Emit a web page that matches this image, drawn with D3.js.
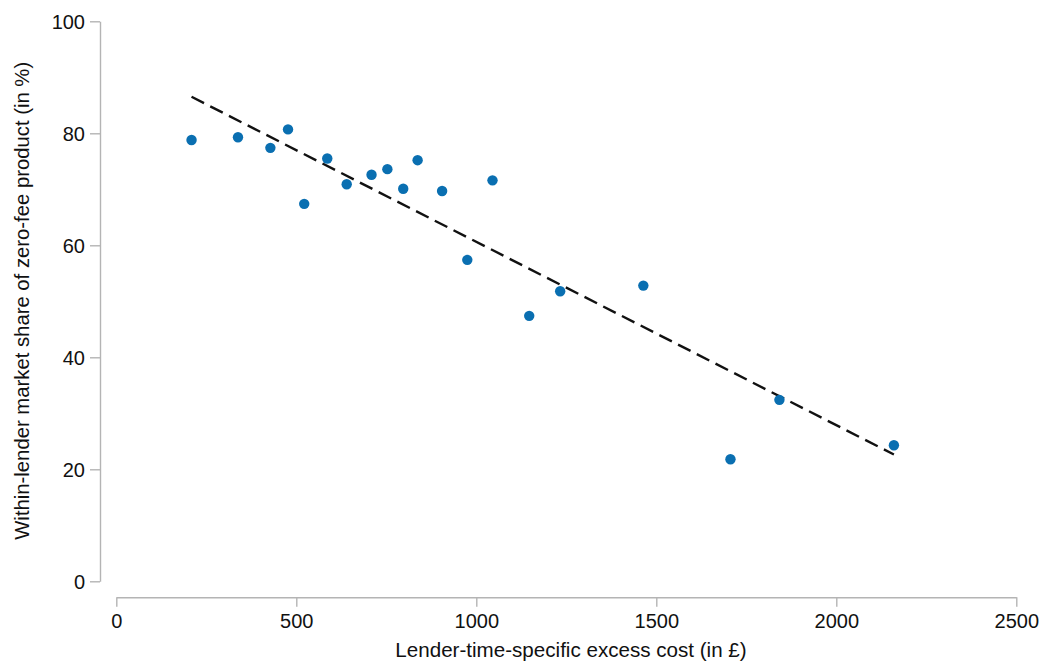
<!DOCTYPE html>
<html>
<head>
<meta charset="utf-8">
<script src="https://cdn.jsdelivr.net/npm/d3@7"></script>
<style>
  html, body { margin: 0; padding: 0; background: #fff; }
  svg { display: block; }
  text { font-family: "Liberation Sans", Arial, Helvetica, sans-serif; fill: #111; }
</style>
</head>
<body>
<svg id="chart" width="1040" height="661"></svg>
<script>
// Lender-time-specific excess cost (£) for each lender-period
const excessCost = [209, 338, 428, 477, 522, 586, 640, 709, 753, 797,
                    837, 905, 975, 1045, 1147, 1233, 1464, 1706, 1842, 2160];
// Within-lender market share of the zero-fee product (%)
const zeroFeeShare = [78.8, 79.3, 77.4, 80.7, 67.4, 75.5, 70.9, 72.6, 73.6, 70.1,
                      75.2, 69.7, 57.4, 71.6, 47.4, 51.8, 52.8, 21.8, 32.4, 24.3];
// Linear fit: intercept and slope
const fitIntercept = 93.36;
const fitSlope = -0.03274;

const xTicks = [0, 500, 1000, 1500, 2000, 2500];
const yTicks = [0, 20, 40, 60, 80, 100];

const xTitle = "Lender-time-specific excess cost (in £)";
const yTitle = "Within-lender market share of zero-fee product (in %)";

const svg = d3.select("#chart");
const axisColor = "#b4b4b4";

const x = d3.scaleLinear().domain([0, 2500]).range([116.3, 1016.3]);
const y = d3.scaleLinear().domain([0, 100]).range([581.3, 21.3]);

// y axis, offset to the left of the plot region
const yAxis = svg.append("g")
  .attr("transform", "translate(100,0)")
  .call(d3.axisLeft(y).tickValues(yTicks).tickFormat(d3.format("d"))
    .tickSize(10).tickSizeOuter(0).tickPadding(5));

// x axis, offset below the plot region
const xAxis = svg.append("g")
  .attr("transform", "translate(0,597.3)")
  .call(d3.axisBottom(x).tickValues(xTicks).tickFormat(d3.format("d"))
    .tickSize(9.5).tickSizeOuter(0).tickPadding(6));

[yAxis, xAxis].forEach(g => {
  g.attr("font-family", null).attr("font-size", null);
  g.select(".domain").attr("stroke", axisColor).attr("stroke-width", 1.4);
  g.selectAll(".tick line").attr("stroke", axisColor).attr("stroke-width", 1.4);
  g.selectAll(".tick text").attr("fill", "#111").style("font-size", "20px");
});
yAxis.selectAll(".tick text").attr("dy", "0.36em");
xAxis.selectAll(".tick text").attr("dy", "0.76em");

// fitted line across the observed range
const xMin = d3.min(excessCost), xMax = d3.max(excessCost);
const fitPts = [xMin, xMax].map(v => [v, fitIntercept + fitSlope * v]);
svg.append("path")
  .datum(fitPts)
  .attr("fill", "none")
  .attr("stroke", "#111")
  .attr("stroke-width", 2.4)
  .attr("stroke-dasharray", "14,7")
  .attr("d", d3.line().x(d => x(d[0])).y(d => y(d[1])));

// scatter points
svg.append("g")
  .selectAll("circle")
  .data(excessCost.map((c, i) => ({ c, s: zeroFeeShare[i] })))
  .join("circle")
  .attr("cx", d => x(d.c))
  .attr("cy", d => y(d.s))
  .attr("r", 5.2)
  .attr("fill", "#0a6fb1");

// axis titles
svg.append("text")
  .attr("x", 571)
  .attr("y", 656.5)
  .attr("text-anchor", "middle")
  .style("font-size", "20.6px")
  .text(xTitle);

svg.append("text")
  .attr("transform", "translate(28.5,300.8) rotate(-90)")
  .attr("text-anchor", "middle")
  .style("font-size", "20.3px")
  .text(yTitle);
</script>
</body>
</html>
